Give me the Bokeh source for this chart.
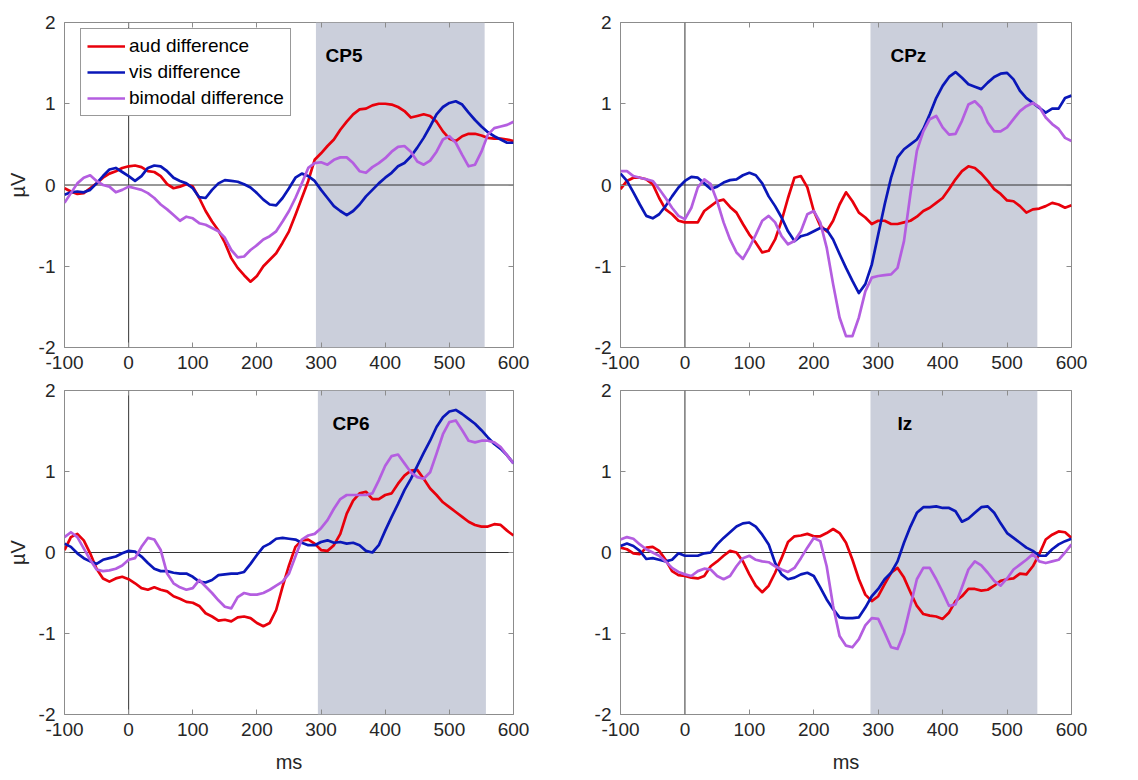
from bokeh.plotting import figure
from bokeh.models import (Span, BoxAnnotation, Label, Legend, LegendItem, LinearAxis,
                          FixedTicker, Range1d, CustomJSTickFormatter)
from bokeh.layouts import column, row
from bokeh.embed import file_html
from bokeh.resources import INLINE

time_ms = list(range(-100, 601, 10))
x_ticks = [-100, 0, 100, 200, 300, 400, 500, 600]
y_ticks = [-2, -1, 0, 1, 2]
channels = ["CP5", "CPz", "CP6", "Iz"]
series_names = ["aud difference", "vis difference", "bimodal difference"]
shade_start = [292, 288, 295, 288]
shade_end = [555, 547, 557, 547]
label_x = [307, 319, 318, 330]
label_y = [1.59, 1.59, 1.59, 1.59]

cp5_aud = [-0.04, -0.08, -0.11, -0.10, -0.04, 0.02, 0.09, 0.14, 0.17, 0.21,
           0.23, 0.24, 0.22, 0.17, 0.16, 0.11, 0.01, -0.04, -0.02, 0.01,
           -0.02, -0.16, -0.32, -0.45, -0.56, -0.71, -0.90, -1.02, -1.11, -1.19,
           -1.12, -1.00, -0.92, -0.84, -0.71, -0.57, -0.37, -0.16, 0.05, 0.31,
           0.39, 0.48, 0.56, 0.68, 0.78, 0.87, 0.93, 0.94, 0.98, 1.00,
           1.00, 0.99, 0.96, 0.91, 0.83, 0.85, 0.87, 0.85, 0.78, 0.66,
           0.57, 0.54, 0.60, 0.63, 0.63, 0.61, 0.58, 0.57, 0.57, 0.56,
           0.54]
cp5_vis = [-0.12, -0.09, -0.08, -0.09, -0.06, 0.02, 0.11, 0.19, 0.21, 0.16,
           0.11, 0.05, 0.11, 0.21, 0.24, 0.23, 0.17, 0.09, 0.05, 0.02,
           -0.04, -0.15, -0.16, -0.06, 0.02, 0.06, 0.05, 0.04, 0.01, -0.03,
           -0.10, -0.18, -0.24, -0.25, -0.16, -0.04, 0.09, 0.14, 0.11, 0.05,
           -0.06, -0.16, -0.26, -0.32, -0.37, -0.32, -0.24, -0.14, -0.06, 0.02,
           0.09, 0.15, 0.23, 0.27, 0.35, 0.46, 0.58, 0.72, 0.87, 0.96,
           1.01, 1.03, 0.99, 0.89, 0.80, 0.72, 0.65, 0.60, 0.56, 0.52,
           0.52]
cp5_bim = [-0.22, -0.10, 0.02, 0.09, 0.12, 0.05, 0.00, -0.02, -0.09, -0.06,
           -0.02, -0.04, -0.06, -0.10, -0.16, -0.24, -0.30, -0.37, -0.44, -0.39,
           -0.41, -0.47, -0.49, -0.53, -0.57, -0.65, -0.80, -0.89, -0.88, -0.80,
           -0.74, -0.67, -0.63, -0.57, -0.45, -0.32, -0.16, 0.02, 0.21, 0.27,
           0.28, 0.25, 0.31, 0.34, 0.34, 0.27, 0.17, 0.15, 0.22, 0.27,
           0.33, 0.41, 0.47, 0.48, 0.41, 0.29, 0.25, 0.30, 0.41, 0.56,
           0.60, 0.52, 0.37, 0.23, 0.25, 0.41, 0.62, 0.70, 0.72, 0.74,
           0.78]

cpz_aud = [-0.05, 0.05, 0.09, 0.09, 0.07, 0.01, -0.16, -0.30, -0.36, -0.44,
           -0.46, -0.46, -0.46, -0.32, -0.26, -0.20, -0.18, -0.27, -0.34, -0.48,
           -0.61, -0.71, -0.83, -0.81, -0.67, -0.44, -0.16, 0.09, 0.11, -0.03,
           -0.32, -0.50, -0.57, -0.44, -0.24, -0.09, -0.20, -0.34, -0.40, -0.48,
           -0.44, -0.44, -0.48, -0.48, -0.46, -0.44, -0.39, -0.32, -0.28, -0.22,
           -0.16, -0.05, 0.07, 0.17, 0.23, 0.21, 0.14, 0.05, -0.05, -0.11,
           -0.19, -0.20, -0.26, -0.34, -0.30, -0.29, -0.26, -0.22, -0.24, -0.28,
           -0.25]
cpz_vis = [0.14, 0.05, -0.09, -0.24, -0.38, -0.41, -0.36, -0.26, -0.14, -0.03,
           0.05, 0.10, 0.09, 0.02, -0.05, -0.02, 0.03, 0.06, 0.07, 0.12,
           0.15, 0.12, 0.02, -0.14, -0.26, -0.40, -0.57, -0.69, -0.63, -0.61,
           -0.57, -0.53, -0.55, -0.67, -0.85, -1.02, -1.18, -1.33, -1.22, -0.98,
           -0.61, -0.24, 0.09, 0.34, 0.44, 0.50, 0.56, 0.69, 0.87, 1.07,
           1.22, 1.33, 1.39, 1.32, 1.24, 1.21, 1.18, 1.26, 1.33, 1.37,
           1.38, 1.30, 1.16, 1.07, 1.01, 0.95, 0.89, 0.94, 0.94, 1.07,
           1.10]
cpz_bim = [0.17, 0.17, 0.11, 0.09, 0.07, 0.05, -0.05, -0.16, -0.28, -0.38,
           -0.42, -0.28, -0.03, 0.07, 0.01, -0.20, -0.46, -0.67, -0.83, -0.91,
           -0.77, -0.61, -0.44, -0.38, -0.46, -0.63, -0.73, -0.69, -0.57, -0.36,
           -0.32, -0.46, -0.77, -1.22, -1.63, -1.86, -1.86, -1.63, -1.31, -1.14,
           -1.12, -1.11, -1.10, -1.02, -0.69, -0.11, 0.42, 0.66, 0.81, 0.85,
           0.71, 0.62, 0.63, 0.79, 0.99, 1.03, 0.95, 0.77, 0.66, 0.66,
           0.71, 0.81, 0.91, 0.97, 1.01, 0.96, 0.83, 0.75, 0.69, 0.58,
           0.54]

cp6_aud = [0.03, 0.19, 0.23, 0.15, -0.01, -0.20, -0.32, -0.36, -0.32, -0.30,
           -0.33, -0.38, -0.44, -0.46, -0.43, -0.46, -0.48, -0.54, -0.57, -0.61,
           -0.62, -0.66, -0.75, -0.79, -0.84, -0.83, -0.85, -0.80, -0.79, -0.81,
           -0.87, -0.91, -0.87, -0.71, -0.42, -0.16, 0.07, 0.15, 0.16, 0.11,
           0.03, 0.02, 0.09, 0.23, 0.48, 0.64, 0.73, 0.75, 0.66, 0.66,
           0.71, 0.73, 0.85, 0.95, 1.01, 1.02, 0.91, 0.79, 0.71, 0.62,
           0.56, 0.50, 0.44, 0.38, 0.34, 0.32, 0.32, 0.35, 0.34, 0.27,
           0.21]
cp6_vis = [0.11, 0.07, -0.01, -0.07, -0.11, -0.14, -0.09, -0.07, -0.05, -0.01,
           0.02, 0.01, -0.05, -0.13, -0.20, -0.23, -0.23, -0.25, -0.26, -0.26,
           -0.30, -0.36, -0.37, -0.34, -0.28, -0.27, -0.26, -0.26, -0.24, -0.14,
           -0.03, 0.07, 0.11, 0.17, 0.18, 0.17, 0.16, 0.12, 0.09, 0.09,
           0.13, 0.15, 0.12, 0.13, 0.11, 0.12, 0.09, 0.02, 0.00, 0.09,
           0.27, 0.44, 0.60, 0.77, 0.91, 1.07, 1.23, 1.38, 1.55, 1.67,
           1.74, 1.76, 1.71, 1.65, 1.59, 1.51, 1.42, 1.34, 1.28, 1.20,
           1.10]
cp6_bim = [0.19, 0.25, 0.19, 0.05, -0.09, -0.21, -0.23, -0.22, -0.20, -0.16,
           -0.09, -0.07, 0.07, 0.18, 0.16, 0.03, -0.26, -0.38, -0.43, -0.46,
           -0.44, -0.34, -0.42, -0.50, -0.59, -0.67, -0.69, -0.55, -0.50, -0.52,
           -0.52, -0.50, -0.46, -0.41, -0.36, -0.26, -0.05, 0.16, 0.21, 0.23,
           0.30, 0.40, 0.54, 0.66, 0.71, 0.71, 0.71, 0.71, 0.73, 0.89,
           1.07, 1.19, 1.21, 1.10, 0.99, 0.93, 0.91, 0.99, 1.22, 1.46,
           1.61, 1.63, 1.51, 1.38, 1.36, 1.38, 1.38, 1.36, 1.30, 1.20,
           1.10]

iz_aud = [0.06, 0.04, -0.01, -0.02, 0.06, 0.07, 0.02, -0.09, -0.23, -0.28,
          -0.29, -0.31, -0.32, -0.29, -0.17, -0.11, -0.04, 0.02, 0.00, -0.11,
          -0.27, -0.41, -0.49, -0.41, -0.25, -0.07, 0.13, 0.20, 0.21, 0.23,
          0.20, 0.20, 0.24, 0.29, 0.24, 0.12, -0.09, -0.33, -0.52, -0.60,
          -0.54, -0.39, -0.25, -0.19, -0.31, -0.49, -0.66, -0.76, -0.78, -0.79,
          -0.82, -0.74, -0.60, -0.54, -0.45, -0.45, -0.47, -0.46, -0.41, -0.35,
          -0.33, -0.32, -0.26, -0.27, -0.17, -0.02, 0.16, 0.22, 0.26, 0.25,
          0.18]
iz_vis = [0.08, 0.11, 0.08, 0.02, -0.08, -0.07, -0.09, -0.11, -0.09, -0.01,
          -0.04, -0.04, -0.04, -0.01, 0.00, 0.10, 0.18, 0.25, 0.32, 0.36,
          0.37, 0.32, 0.22, 0.10, -0.13, -0.27, -0.33, -0.31, -0.27, -0.25,
          -0.29, -0.43, -0.58, -0.70, -0.80, -0.81, -0.81, -0.80, -0.68, -0.54,
          -0.45, -0.33, -0.25, -0.11, 0.12, 0.32, 0.49, 0.56, 0.56, 0.57,
          0.55, 0.55, 0.51, 0.38, 0.42, 0.49, 0.56, 0.57, 0.49, 0.36,
          0.24, 0.18, 0.12, 0.06, 0.02, -0.04, -0.04, 0.04, 0.10, 0.14,
          0.17]
iz_bim = [0.16, 0.19, 0.17, 0.10, 0.04, 0.00, -0.04, -0.11, -0.19, -0.24,
          -0.27, -0.29, -0.23, -0.20, -0.21, -0.29, -0.33, -0.29, -0.17, -0.07,
          -0.04, -0.09, -0.11, -0.12, -0.17, -0.21, -0.24, -0.19, -0.07, 0.06,
          0.18, 0.14, -0.17, -0.66, -1.03, -1.15, -1.17, -1.07, -0.90, -0.81,
          -0.82, -0.99, -1.17, -1.19, -0.99, -0.66, -0.33, -0.19, -0.19, -0.33,
          -0.49, -0.66, -0.64, -0.43, -0.21, -0.11, -0.16, -0.25, -0.35, -0.41,
          -0.32, -0.21, -0.15, -0.09, -0.02, -0.11, -0.13, -0.11, -0.09, 0.00,
          0.10]

panel_data = [
    (cp5_aud, cp5_vis, cp5_bim),
    (cpz_aud, cpz_vis, cpz_bim),
    (cp6_aud, cp6_vis, cp6_bim),
    (iz_aud, iz_vis, iz_bim),
]

COLORS = ["#e8000b", "#0a17b8", "#b45ee0"]
SHADE = "#cbcfdb"
FRAME = "#8c8c8c"
TXT = "#262626"
FONT = "Liberation Sans"

# geometry: (width, height, left, right, top, bottom)
geom = [
    (543, 375, 64, 30, 22, 28),
    (573, 375, 77, 45, 22, 28),
    (543, 400, 64, 30, 15, 59),
    (573, 400, 77, 45, 15, 59),
]

plain_fmt = "return tick.toString();"
blank_fmt = "return '';"


def make_panel(i):
    w, h, bl, br, bt, bb = geom[i]
    p = figure(width=w, height=h, output_backend="svg", toolbar_location=None,
               x_range=Range1d(-100, 600), y_range=Range1d(-2, 2),
               min_border_left=bl, min_border_right=br, min_border_top=bt,
               min_border_bottom=bb, background_fill_color="white",
               border_fill_color="white", outline_line_color=FRAME,
               outline_line_width=1)
    p.xgrid.visible = False
    p.ygrid.visible = False

    for ax, ticks in ((p.xaxis[0], x_ticks), (p.yaxis[0], y_ticks)):
        ax.ticker = FixedTicker(ticks=ticks)
        ax.formatter = CustomJSTickFormatter(code=plain_fmt)
        ax.major_tick_in = 5
        ax.major_tick_out = 0
        ax.minor_tick_line_color = None
        ax.axis_line_color = None
        ax.major_tick_line_color = FRAME
        ax.major_label_text_font = FONT
        ax.major_label_text_font_size = "19px"
        ax.major_label_text_color = TXT
        ax.axis_label_text_font = FONT
        ax.axis_label_text_font_size = "20px"
        ax.axis_label_text_font_style = "normal"
        ax.axis_label_text_color = TXT
    p.xaxis[0].major_label_standoff = 8
    p.yaxis[0].major_label_standoff = 9
    p.yaxis[0].major_label_orientation = "horizontal"
    if i in (0, 2):
        p.yaxis[0].axis_label = "µV"
        p.yaxis[0].axis_label_standoff = 7
    if i in (2, 3):
        p.xaxis[0].axis_label = "ms"
        p.xaxis[0].axis_label_standoff = 12

    top = LinearAxis(ticker=FixedTicker(ticks=x_ticks), formatter=CustomJSTickFormatter(code=blank_fmt),
                     major_tick_in=5, major_tick_out=0,
                     minor_tick_line_color=None, axis_line_color=None,
                     major_tick_line_color=FRAME, major_label_standoff=0)
    right = LinearAxis(ticker=FixedTicker(ticks=y_ticks), formatter=CustomJSTickFormatter(code=blank_fmt),
                       major_tick_in=5, major_tick_out=0,
                       minor_tick_line_color=None, axis_line_color=None,
                       major_tick_line_color=FRAME, major_label_standoff=0)
    p.add_layout(top, "above")
    p.add_layout(right, "right")

    p.add_layout(BoxAnnotation(left=shade_start[i], right=shade_end[i], fill_color=SHADE,
                               fill_alpha=1.0, line_color=None, level="underlay"))
    p.add_layout(Span(location=0, dimension="width", line_color="#333333",
                      line_width=1, level="underlay"))
    p.add_layout(Span(location=0, dimension="height", line_color="#333333",
                      line_width=1, level="underlay"))

    renderers = []
    for vals, col in zip(panel_data[i], COLORS):
        r = p.line(time_ms, vals, line_color=col, line_width=2.7, line_join="round")
        renderers.append(r)

    p.add_layout(Label(x=label_x[i], y=label_y[i], text=channels[i], text_font=FONT,
                       text_font_size="19px", text_font_style="bold", text_color="black",
                       text_baseline="middle", text_align="left"))

    if i == 0:
        legend = Legend(items=[LegendItem(label=n, renderers=[r]) for n, r in zip(series_names, renderers)],
                        location=(16, 231), label_text_font=FONT, label_text_font_size="19px",
                        label_text_color="black", glyph_width=38, glyph_height=20,
                        label_height=20, label_standoff=4, spacing=4, padding=6, margin=0,
                        border_line_color="#333333", border_line_width=1,
                        background_fill_color="white", background_fill_alpha=1.0)
        p.add_layout(legend, "center")
    return p


panels = [make_panel(i) for i in range(4)]
layout = column(row(panels[0], panels[1]), row(panels[2], panels[3]))

open("out.html", "w").write(file_html(layout, INLINE))
